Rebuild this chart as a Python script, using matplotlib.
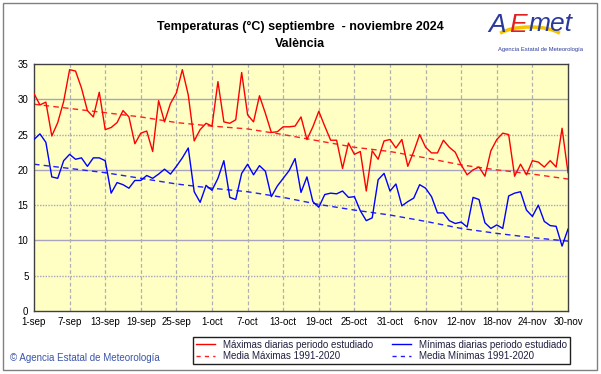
import matplotlib
matplotlib.use("Agg")
import matplotlib.pyplot as plt
from matplotlib.lines import Line2D
from matplotlib.patches import Rectangle, Arc

plt.rcParams["font.family"] = ["Liberation Sans", "DejaVu Sans"]

# daily values, 1-sep .. 30-nov 2024 (91 days)
tmax = [30.8, 29.2, 29.6, 24.8, 26.7, 29.7, 34.2, 34.0, 31.6, 28.4,
        27.5, 31.0, 25.7, 26.0, 26.7, 28.4, 27.5, 23.7, 25.2, 25.5,
        22.6, 29.8, 26.8, 29.4, 30.9, 34.2, 30.6, 24.1, 25.7, 26.6,
        26.2, 32.5, 26.8, 26.6, 27.1, 33.8, 27.8, 26.8, 30.5, 28.0,
        25.3, 25.4, 26.1, 26.1, 26.2, 27.5, 24.3, 26.1, 28.3, 26.2,
        24.2, 24.2, 20.2, 23.8, 22.2, 22.6, 17.0, 22.7, 21.5, 24.1,
        24.3, 23.1, 24.3, 20.5, 22.6, 25.0, 23.2, 22.4, 22.4, 24.2,
        23.2, 22.5, 20.7, 19.3, 20.0, 20.4, 19.1, 22.7, 24.3, 25.2,
        25.0, 19.1, 20.8, 19.3, 21.3, 21.1, 20.4, 21.3, 20.4, 25.9, 19.6]
tmin = [24.3, 25.1, 23.9, 19.0, 18.8, 21.3, 22.2, 21.5, 21.7, 20.5,
        21.7, 21.7, 21.3, 16.7, 18.2, 17.9, 17.4, 18.5, 18.5, 19.2,
        18.8, 19.4, 20.1, 19.4, 20.5, 21.7, 23.1, 16.9, 15.4, 17.8,
        17.1, 18.8, 21.3, 16.1, 15.8, 19.5, 20.8, 19.3, 20.6, 19.8,
        16.2, 17.7, 18.8, 19.9, 21.6, 16.8, 19.0, 15.5, 14.7, 16.5,
        16.7, 16.6, 17.0, 16.1, 16.2, 14.2, 12.8, 13.2, 18.6, 19.5,
        17.0, 18.0, 14.9, 15.5, 16.0, 17.9, 17.4, 16.2, 13.9, 13.9,
        12.8, 12.4, 12.6, 11.9, 16.1, 15.8, 12.5, 11.7, 12.2, 11.7,
        16.3, 16.7, 16.9, 14.3, 13.4, 15.0, 12.7, 12.1, 12.0, 9.2, 11.6]

# 1991-2020 normals read at the tick days
tick_days = [0, 6, 12, 18, 24, 30, 36, 42, 48, 54, 60, 66, 72, 78, 84, 90]
tick_labels = ["1-sep", "7-sep", "13-sep", "19-sep", "25-sep", "1-oct", "7-oct",
               "13-oct", "19-oct", "25-oct", "31-oct", "6-nov", "12-nov",
               "18-nov", "24-nov", "30-nov"]
max_norm = [29.3, 28.7, 28.1, 27.5, 26.7, 26.2, 25.8, 25.0,
            24.1, 23.2, 22.6, 21.7, 20.7, 20.0, 19.4, 18.7]
min_norm = [20.8, 20.2, 19.6, 18.8, 18.0, 17.4, 16.9, 16.1,
            15.1, 14.3, 13.6, 12.7, 11.7, 11.0, 10.4, 9.9]

days = list(range(len(tmax)))

fig = plt.figure(figsize=(6.01, 3.74), dpi=100)
W, H = 601, 374
ax = fig.add_axes([34 / W, 1 - 311 / H, 534 / W, 247 / H])
ax.set_facecolor("#ffffc4")

# grid: solid every 10, dotted every 5, dashed verticals
for v in range(5, 35, 5):
    if v % 10 == 0:
        ax.axhline(v, color="#a8a4c0", lw=1.0, zorder=1)
    else:
        ax.axhline(v, color="#a8a4c0", lw=1.0, ls=(0, (1, 1)), zorder=1)
for d in tick_days[1:-1]:
    ax.axvline(d, color="#b0b0b0", lw=0.9, ls=(0, (3, 2)), zorder=1)

ax.plot(days, tmax, color="#ff0000", lw=1.0, zorder=3)
ax.plot(days, tmin, color="#0000ff", lw=1.0, zorder=3)
ax.plot(tick_days, max_norm, color="#ff2020", lw=1.0, ls=(0, (4, 3)), zorder=2)
ax.plot(tick_days, min_norm, color="#2020ff", lw=1.0, ls=(0, (4, 3)), zorder=2)

ax.set_xlim(0, 90)
ax.set_ylim(0, 35)
ax.set_xticks(tick_days)
ax.set_xticklabels(tick_labels)
ax.set_yticks(range(0, 36, 5))
ax.tick_params(length=0, labelsize=7, pad=4)
for s in ax.spines.values():
    s.set_color("#404040")
    s.set_linewidth(1.0)

# titles
fig.text(300 / W, 1 - 27 / H, "Temperaturas (°C) septiembre  - noviembre 2024",
         ha="center", va="center", fontsize=9, fontweight="bold")
fig.text(300 / W, 1 - 44 / H, "València", ha="center", va="center",
         fontsize=9, fontweight="bold")

# logo
fig.text(488 / W, 1 - 25 / H, "A", color="#2b3a9a", fontsize=19, style="italic",
         ha="left", va="center")
fig.text(509 / W, 1 - 25 / H, "E", color="#e02020", fontsize=19, style="italic",
         ha="left", va="center")
fig.text(529 / W, 1 - 24 / H, "met", color="#2b3a9a", fontsize=19, style="italic",
         ha="left", va="center")
fig.patches.append(Arc((530 / W, 1 - 40 / H), 70 / W, 26 / H, theta1=20, theta2=160,
                       transform=fig.transFigure, color="#f5c400", lw=2.5))
fig.text(540 / W, 1 - 50 / H, "Agencia Estatal de Meteorología", color="#2b3a9a",
         fontsize=4.2, ha="center", va="center")

fig.text(10 / W, 1 - 358 / H, "© Agencia Estatal de Meteorología", color="#3a55a8",
         fontsize=7, ha="left", va="center")

# legend
handles = [Line2D([], [], color="#ff0000", lw=1.0),
           Line2D([], [], color="#ff2020", lw=1.0, ls=(0, (3, 3))),
           Line2D([], [], color="#0000ff", lw=1.0),
           Line2D([], [], color="#2020ff", lw=1.0, ls=(0, (3, 3)))]
names = ["Máximas diarias periodo estudiado", "Media Máximas 1991-2020",
         "Mínimas diarias periodo estudiado", "Media Mínimas 1991-2020"]
leg = fig.legend(handles, names, ncol=2, loc="center",
                 bbox_to_anchor=(188 / W, 8 / H, 387 / W, 31 / H), mode="expand",
                 fontsize=7, handlelength=2.0, handletextpad=0.8, labelspacing=0.15,
                 borderpad=0.3, columnspacing=1.0, fancybox=False, framealpha=1)
leg.get_frame().set_edgecolor("#202020")
leg.get_frame().set_linewidth(1.0)
for t in leg.get_texts():
    t.set_color("#202040")

# outer frame
fig.patches.append(Rectangle((3 / W, 4 / H), 594 / W, 367 / H, transform=fig.transFigure,
                             fill=False, edgecolor="#808080", lw=1.0))

fig.savefig("out.png", dpi=100)
